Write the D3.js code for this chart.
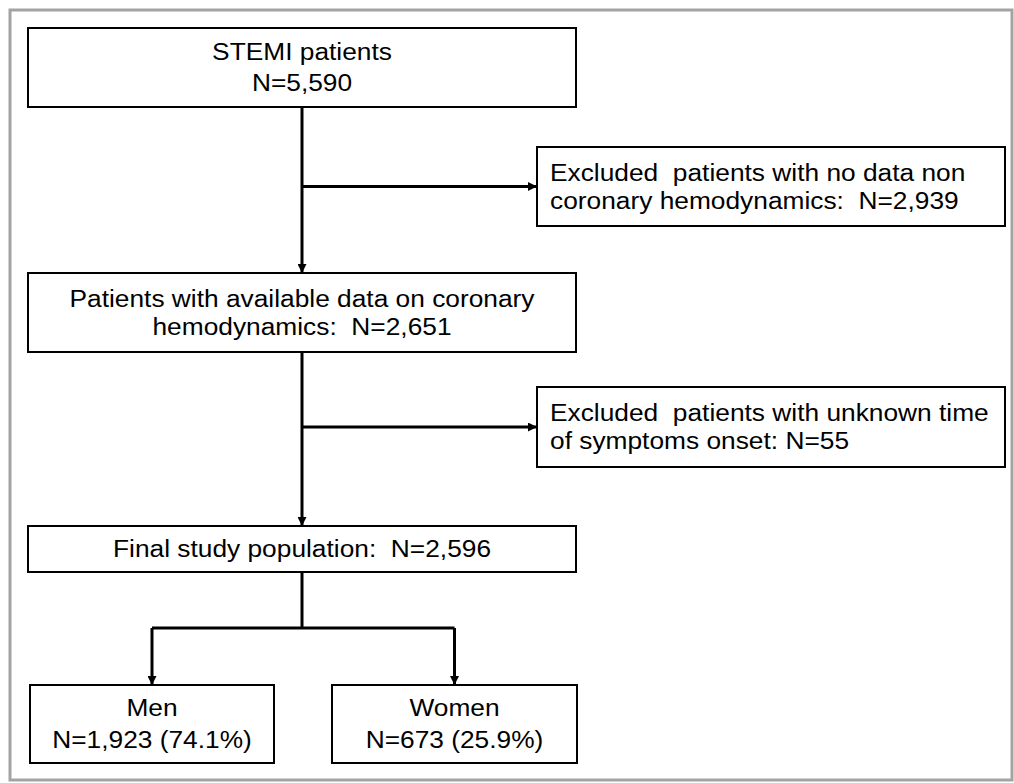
<!DOCTYPE html>
<html>
<head>
<meta charset="utf-8">
<script src="https://cdn.jsdelivr.net/npm/d3@7"></script>
<style>
  body { margin: 0; background: #fff; }
  text { font-family: "Liberation Sans", Arial, sans-serif; white-space: pre; fill: #000; }
</style>
</head>
<body>
<svg id="flow" width="1014" height="783"></svg>
<script>
const svg = d3.select("#flow");

// labels of the flow
const mainLabels = [
    ["STEMI patients", "N=5,590"],
    ["Patients with available data on coronary", "hemodynamics:  N=2,651"],
    ["Final study population:  N=2,596"]
];
const excludedLabels = [
    ["Excluded  patients with no data non", "coronary hemodynamics:  N=2,939"],
    ["Excluded  patients with unknown time", "of symptoms onset: N=55"]
];
const groupLabels = [
    ["Men", "N=1,923 (74.1%)"],
    ["Women", "N=673 (25.9%)"]
];

// layout (pixels)
const FONT = 23.5;
const STRETCH = 1.12;
const mainBoxes = [
    {x0: 28, x1: 576, y0: 28, y1: 107, gap: 31},
    {x0: 28, x1: 576, y0: 273, y1: 352, gap: 28},
    {x0: 28, x1: 576, y0: 526, y1: 572, gap: 28}
];
const exclBoxes = [
    {x0: 537, x1: 1005, y0: 147, y1: 226, gap: 28},
    {x0: 537, x1: 1005, y0: 387, y1: 467, gap: 28}
];
const groupBoxes = [
    {x0: 30, x1: 274, y0: 685, y1: 763, gap: 32},
    {x0: 332, x1: 577, y0: 685, y1: 763, gap: 32}
];
const SPLIT_Y = 628;

svg.append("defs").append("marker")
    .attr("id", "arrow")
    .attr("viewBox", "0 0 10 10")
    .attr("refX", 10).attr("refY", 5)
    .attr("markerWidth", 10).attr("markerHeight", 9)
    .attr("markerUnits", "userSpaceOnUse")
    .attr("orient", "auto")
    .append("path").attr("d", "M0,0L10,5L0,10Z").attr("fill", "#000");

// outer frame
svg.append("rect")
    .attr("x", 10).attr("y", 10).attr("width", 1002).attr("height", 770)
    .attr("fill", "none").attr("stroke", "#a3a3a3").attr("stroke-width", 3);

function drawBox(b, lines, align) {
    svg.append("rect")
        .attr("x", b.x0).attr("y", b.y0)
        .attr("width", b.x1 - b.x0).attr("height", b.y1 - b.y0)
        .attr("fill", "#fff").attr("stroke", "#000").attr("stroke-width", 2);
    const cy = (b.y0 + b.y1) / 2;
    const first = cy - (lines.length - 1) * b.gap / 2 + FONT * 0.36;
    const tx = align == "left" ? b.x0 + 13 : (b.x0 + b.x1) / 2;
    lines.forEach((t, i) => {
        svg.append("text")
            .attr("transform", `translate(${tx},${first + i * b.gap}) scale(${STRETCH},1)`)
            .attr("text-anchor", align == "left" ? "start" : "middle")
            .style("font-size", FONT + "px")
            .text(t);
    });
}

function line(pts, arrow) {
    const p = svg.append("path")
        .attr("d", d3.line()(pts))
        .attr("fill", "none").attr("stroke", "#000").attr("stroke-width", 3);
    if (arrow) p.attr("marker-end", "url(#arrow)");
}

const cx = (mainBoxes[0].x0 + mainBoxes[0].x1) / 2;

// main trunk and exclusions
for (let i = 0; i < mainBoxes.length - 1; i++) {
    line([[cx, mainBoxes[i].y1], [cx, mainBoxes[i + 1].y0]], true);
    const ey = (exclBoxes[i].y0 + exclBoxes[i].y1) / 2;
    line([[cx, ey], [exclBoxes[i].x0, ey]], true);
}

// split into groups
const last = mainBoxes[mainBoxes.length - 1];
line([[cx, last.y1], [cx, SPLIT_Y]], false);
const gcx = groupBoxes.map(b => (b.x0 + b.x1) / 2);
line([[gcx[0], SPLIT_Y], [gcx[1], SPLIT_Y]], false);
gcx.forEach((x, i) => line([[x, SPLIT_Y], [x, groupBoxes[i].y0]], true));

mainLabels.forEach((l, i) => drawBox(mainBoxes[i], l, "center"));
excludedLabels.forEach((l, i) => drawBox(exclBoxes[i], l, "left"));
groupLabels.forEach((l, i) => drawBox(groupBoxes[i], l, "center"));
</script>
</body>
</html>
